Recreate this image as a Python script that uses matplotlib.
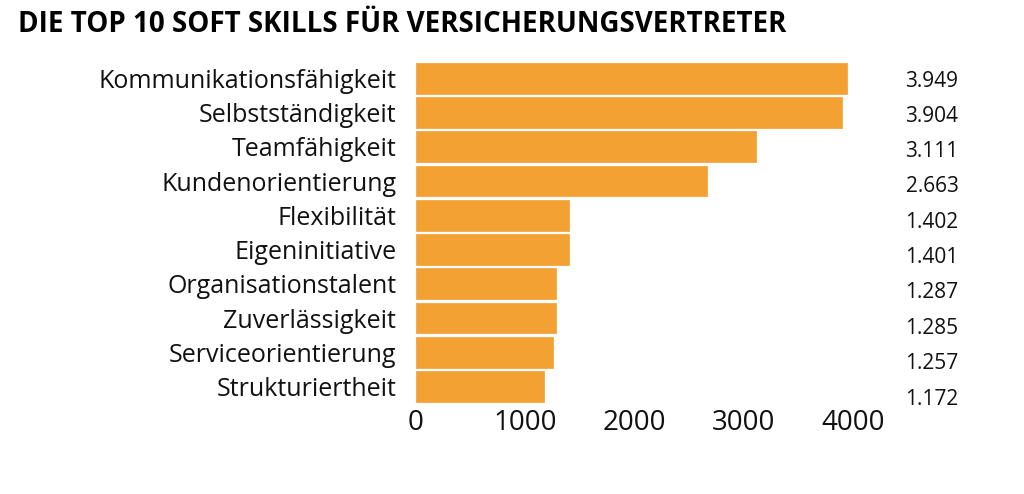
# Top 10 Soft Skills für Versicherungsvertreter - horizontal bar chart

import matplotlib.pyplot as plt
import numpy as np

skills = ["Kommunikationsfähigkeit", "Selbstständigkeit", "Teamfähigkeit",
          "Kundenorientierung", "Flexibilität", "Eigeninitiative",
          "Organisationstalent", "Zuverlässigkeit", "Serviceorientierung",
          "Strukturiertheit"]
counts = [3949, 3904, 3111, 2663, 1402, 1401, 1287, 1285, 1257, 1172]
count_labels = ["3.949", "3.904", "3.111", "2.663", "1.402",
                "1.401", "1.287", "1.285", "1.257", "1.172"]
xticks = [0, 1000, 2000, 3000, 4000]

orange = "#F3A132"
plt.rcParams['font.family'] = ['Open Sans', 'DejaVu Sans']

fig = plt.figure(figsize=(10.24, 4.94), dpi=100)
ax = fig.add_axes([0.406, 0.183, 0.427, 0.693])

y = np.arange(len(skills))
ax.barh(y, counts, height=0.9, color=orange, edgecolor=orange, linewidth=0.5)
ax.set_ylim(len(skills) - 0.5, -0.5)
ax.set_xlim(0, 4000)

ax.set_yticks(y)
ax.set_yticklabels(skills, fontsize=18, color="#111111")
ax.set_xticks(xticks)
ax.set_xticklabels([str(t) for t in xticks], fontsize=20, color="#111111")
ax.tick_params(axis='y', length=0, pad=14)
ax.tick_params(axis='x', length=0, pad=4)
for s in ax.spines.values():
    s.set_visible(False)

# value labels sit in a column right of the chart
label_y = np.linspace(81, 399, len(counts))
for lab, py in zip(count_labels, label_y):
    fig.text(932 / 1024, 1 - py / 494, lab, ha='center', va='center',
             fontsize=15, color="#111111")

fig.text(18 / 1024, 1 - 25 / 494, "DIE TOP 10 SOFT SKILLS FÜR VERSICHERUNGSVERTRETER",
         ha='left', va='center', fontsize=20, fontweight='bold', color="#000000")

fig.savefig("out.png", dpi=100, facecolor="white")
